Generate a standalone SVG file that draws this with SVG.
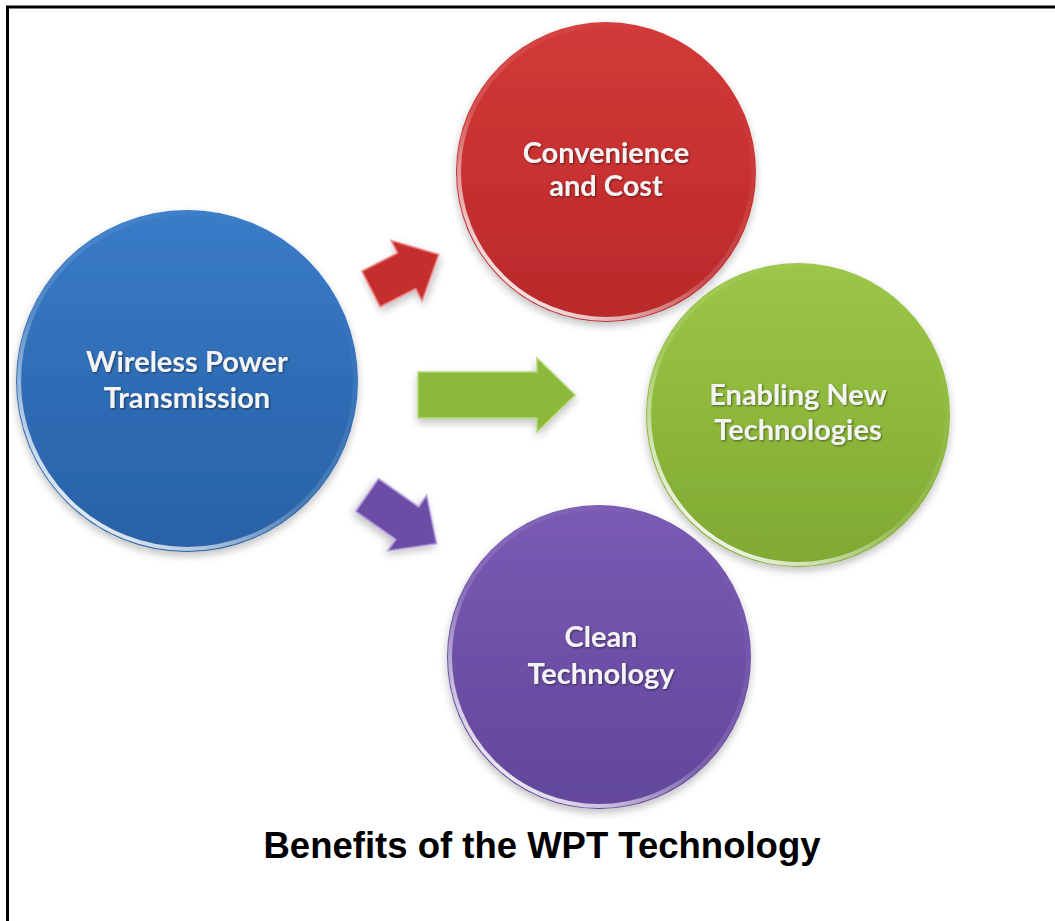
<svg xmlns="http://www.w3.org/2000/svg" width="1055" height="921" viewBox="0 0 1055 921">
<defs>
<style>
.lbl{font-family:Lato,"Liberation Sans",sans-serif;font-weight:bold;fill:#f4f4f4;text-anchor:middle;font-size:29px}
.title{font-family:"Liberation Sans",Arial,sans-serif;font-weight:bold;fill:#000;text-anchor:middle;font-size:36.5px}
.rim{fill:none;stroke-width:4}
</style>
<linearGradient id="gBlue" x1="0" y1="0" x2="0" y2="1"><stop offset="0" stop-color="#3a7cc8"/><stop offset="0.5" stop-color="#2f6db6"/><stop offset="1" stop-color="#2a62a6"/></linearGradient>
<linearGradient id="gRed" x1="0" y1="0" x2="0" y2="1"><stop offset="0" stop-color="#d23a38"/><stop offset="0.5" stop-color="#c83030"/><stop offset="1" stop-color="#b82a2b"/></linearGradient>
<linearGradient id="gGreen" x1="0" y1="0" x2="0" y2="1"><stop offset="0" stop-color="#9cc648"/><stop offset="0.5" stop-color="#8db83b"/><stop offset="1" stop-color="#7fa932"/></linearGradient>
<linearGradient id="gPurple" x1="0" y1="0" x2="0" y2="1"><stop offset="0" stop-color="#7a5bb3"/><stop offset="0.5" stop-color="#6e50a7"/><stop offset="1" stop-color="#62479a"/></linearGradient>
<linearGradient id="rim" x1="0.8" y1="0.1" x2="0.2" y2="0.9"><stop offset="0" stop-color="#fff" stop-opacity="0"/><stop offset="0.6" stop-color="#fff" stop-opacity="0.15"/><stop offset="1" stop-color="#fff" stop-opacity="0.85"/></linearGradient>
<filter id="sh" x="-10%" y="-10%" width="120%" height="125%"><feGaussianBlur in="SourceAlpha" stdDeviation="4"/><feOffset dy="4"/><feComponentTransfer><feFuncA type="linear" slope="0.25"/></feComponentTransfer><feMerge><feMergeNode/><feMergeNode in="SourceGraphic"/></feMerge></filter>
<filter id="tsh"><feGaussianBlur in="SourceAlpha" stdDeviation="1"/><feOffset dx="1" dy="1"/><feComponentTransfer><feFuncA type="linear" slope="0.5"/></feComponentTransfer><feMerge><feMergeNode/><feMergeNode in="SourceGraphic"/></feMerge></filter>
</defs>
<rect width="1055" height="921" fill="#fff"/>
<path d="M7.5,921 V7 H1055" fill="none" stroke="#000" stroke-width="3"/>

<g id="connectors">
<path d="M0,-20 L40,-20 L40,-34 L76,0 L40,34 L40,20 L0,20 Z" transform="translate(371,289) rotate(-27)" fill="#c62d2e" stroke="#e88" stroke-width="1.5" filter="url(#sh)"/>
<path d="M0,-23 L119,-23 L119,-37 L157,0 L119,37 L119,23 L0,23 Z" transform="translate(418,395)" fill="#8cb93a" stroke="#b5d77a" stroke-width="1.5" filter="url(#sh)"/>
<path d="M0,-20 L49,-20 L49,-34 L85,0 L49,34 L49,20 L0,20 Z" transform="translate(367,495) rotate(35)" fill="#6c4ea6" stroke="#b9a3e0" stroke-width="1.5" filter="url(#sh)"/>
</g>

<g id="node-wpt">
<circle cx="187" cy="381" r="171" fill="url(#gBlue)" filter="url(#sh)"/>
<circle cx="187" cy="381" r="168" class="rim" stroke="url(#rim)"/>
<text class="lbl" x="187" y="372" filter="url(#tsh)">Wireless Power</text>
<text class="lbl" x="187" y="408" filter="url(#tsh)">Transmission</text>
</g>

<g id="node-convenience">
<circle cx="606" cy="172" r="150" fill="url(#gRed)" filter="url(#sh)"/>
<circle cx="606" cy="172" r="147" class="rim" stroke="url(#rim)"/>
<text class="lbl" x="606" y="163" filter="url(#tsh)">Convenience</text>
<text class="lbl" x="606" y="196" filter="url(#tsh)">and Cost</text>
</g>

<g id="node-enabling">
<circle cx="798" cy="415" r="152" fill="url(#gGreen)" filter="url(#sh)"/>
<circle cx="798" cy="415" r="149" class="rim" stroke="url(#rim)"/>
<text class="lbl" x="798" y="405" filter="url(#tsh)">Enabling New</text>
<text class="lbl" x="798" y="440" filter="url(#tsh)">Technologies</text>
</g>

<g id="node-clean">
<circle cx="599" cy="657" r="152" fill="url(#gPurple)" filter="url(#sh)"/>
<circle cx="599" cy="657" r="149" class="rim" stroke="url(#rim)"/>
<text class="lbl" x="601" y="647" filter="url(#tsh)">Clean</text>
<text class="lbl" x="601" y="684" filter="url(#tsh)">Technology</text>
</g>

<text class="title" x="542" y="858">Benefits of the WPT Technology</text>
</svg>
